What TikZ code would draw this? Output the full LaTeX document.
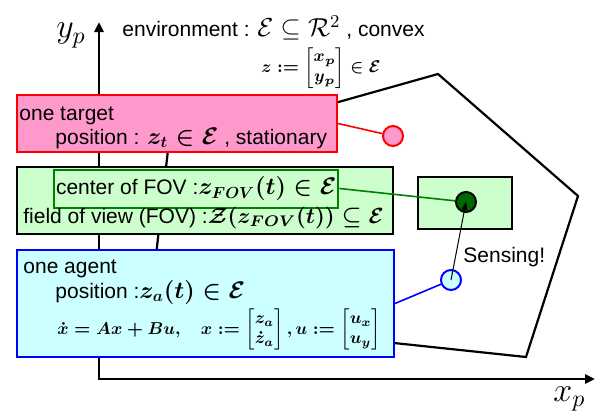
\RequirePackage{fix-cm}
\documentclass[tikz,border=0pt]{standalone}
\usepackage{amsmath, amssymb}
\usepackage[no-math]{fontspec}
\setmainfont{Liberation Sans}
\usepackage{tikz}
\usetikzlibrary{positioning, calc, arrows.meta}
\definecolor{tpink}{RGB}{255, 153, 204}
\definecolor{tred}{RGB}{255, 0, 0}
\definecolor{fgreen}{RGB}{204, 255, 204}
\definecolor{fline}{RGB}{0, 128, 0}
\definecolor{fdeep}{RGB}{0, 102, 0}
\definecolor{acyan}{RGB}{204, 255, 255}
\definecolor{ablue}{RGB}{0, 0, 255}
\newcommand{\bmth}[1]{{\fontsize{12}{14}\selectfont\boldmath$#1$}}
\newcommand{\colvec}[2]{\begin{bmatrix} #1\\ #2 \end{bmatrix}}

\begin{document}
\begin{tikzpicture}[
      x=0.5pt, y=-0.5pt,
      font=\fontsize{10.5}{12}\selectfont,
      panel/.style={rectangle, draw, line width=1pt, inner sep=0pt},
      spot/.style={circle, draw, line width=1pt, minimum size=10pt, inner sep=0pt},
      link/.style={line width=0.8pt},
      axisline/.style={line width=1.4pt, line join=miter, {Triangle[length=5pt, width=4.5pt]}-{Triangle[length=5pt, width=4.5pt]}},
      txt/.style={anchor=base west, inner sep=0pt}
    ]
      \useasboundingbox (0,0) rectangle (606,412);

      % Environment: convex polygon
      \draw[line width=1.1pt, line join=miter] (168,150) -- (438,74) -- (578,196) -- (526,357) -- (149,317) -- cycle;

      % Axes
      \coordinate (o) at (99,379);
      \coordinate (ytip) at (99,22);
      \coordinate (xtip) at (595,379);
      \draw[axisline] (ytip) -- (o) -- (xtip);
      \node[txt, font=\fontsize{17}{19}\selectfont] (ylab) at (56,38) {$y_p$};
      \node[txt, font=\fontsize{17}{19}\selectfont] (xlab) at (553,401) {$x_p$};
      \node[txt] (envlab) at (122,37) {environment : {\fontsize{13}{15}\selectfont$\mathcal{E} \subseteq \mathcal{R}^2$} , convex};
      \node[font=\fontsize{8.5}{10}\selectfont] (zlab) at (321,68) {{\boldmath$z := \colvec{x_p}{y_p} \in \mathcal{E}$}};

      % Target
      \node[panel, draw=tred, fill=tpink, minimum width=160pt, minimum height=28.5pt] (tbox) at (177,123.5) {};
      \node[txt] (tname) at (19,120) {one target};
      \node[txt] (tpos) at (55,144) {position : \bmth{z_t \in \mathcal{E}} , stationary};
      \node[spot, draw=tred, fill=tpink] (tdot) at (393,136) {};
      \draw[link, tred] (tbox.east) -- (tdot);

      % Field of view
      \node[panel, fill=fgreen, minimum width=188pt, minimum height=33.5pt] (fbox) at (205,200.5) {};
      \node[panel, draw=fline, anchor=west, inner xsep=1pt, inner ysep=3.5pt] (fcen) at (53,188.5) {center of FOV :\bmth{z_{FOV}(t) \in \mathcal{E}}};
      \node[txt] (fname) at (23,223) {field of view (FOV) :{\fontsize{11}{13}\selectfont\boldmath$\mathcal{Z}(z_{FOV}(t)) \subseteq \mathcal{E}$}};
      \node[panel, fill=fgreen, minimum width=47pt, minimum height=26pt] (farea) at (465,203) {};
      \node[spot, draw=black, fill=fdeep] (fdot) at (466,202) {};
      \draw[link, fline] (fcen.east) -- (fdot);

      % Agent
      \node[panel, draw=ablue, fill=acyan, minimum width=188.5pt, minimum height=53.5pt] (abox) at (205.5,303.5) {};
      \node[txt] (aname) at (23,273) {one agent};
      \node[txt] (apos) at (55,298) {position :\bmth{z_a(t) \in \mathcal{E}}};
      \node[txt, font=\fontsize{8.6}{10}\selectfont] (adyn) at (57,334) {{\boldmath$\dot{x} = Ax + Bu,\quad x := \colvec{z_a}{\dot{z}_a}, u := \colvec{u_x}{u_y}$}};
      \node[spot, draw=ablue, fill=acyan] (adot) at (451,280) {};
      \draw[link, ablue] (abox.east) -- (adot);

      % Sensing
      \draw[line width=0.5pt, -{Triangle[length=4pt, width=3pt]}] (adot.center) -- (fdot.center);
      \node[txt] (sense) at (463,262) {Sensing!};
    \end{tikzpicture}
\end{document}
